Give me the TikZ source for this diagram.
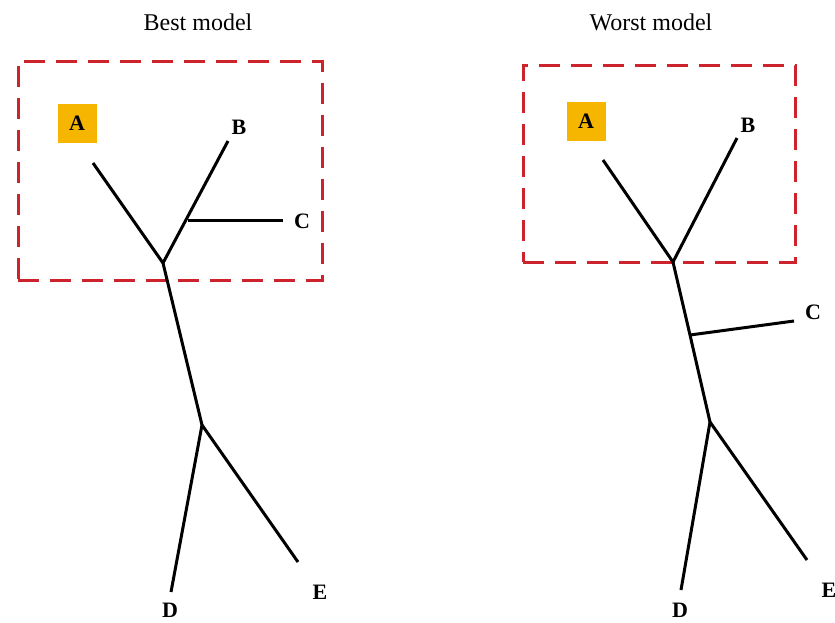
\documentclass[tikz,border=0pt]{standalone}
\usepackage{fontspec}
\setmainfont{Liberation Serif}
\definecolor{boxred}{RGB}{205,35,45}
\definecolor{aorange}{RGB}{246,182,0}
\begin{document}
\begin{tikzpicture}[x=1pt,y=-1pt,
  branch/.style={line width=3pt, black},
  region/.style={draw=boxred, line width=3pt, dash pattern=on 21pt off 11pt, minimum width=#1, inner sep=0pt},
  leaf/.style={font=\fontsize{22}{24}\selectfont\bfseries, inner sep=0pt},
  hilite/.style={fill=aorange, minimum width=39pt, minimum height=39pt, inner sep=0pt, font=\fontsize{22}{24}\selectfont\bfseries},
  title/.style={font=\fontsize{24}{26}\selectfont, inner sep=0pt}]
\useasboundingbox (0,0) rectangle (835,622);
% ---------- Best model ----------
\node[title] (t1) at (198,22) {Best model};
\node[region=304pt, minimum height=219pt] (r1) at (170,170.5) {};
\node[hilite] (A1) at (77,123) {A};
\node[leaf] (B1) at (239,127) {B};
\node[leaf] (C1) at (302,221) {C};
\node[leaf] (D1) at (170,610) {D};
\node[leaf] (E1) at (320,592) {E};
\coordinate (a1) at (93,163);
\coordinate (b1) at (228,141);
\coordinate (c1) at (283,220);
\coordinate (d1) at (171,592);
\coordinate (e1) at (298,562);
\coordinate (j1) at (163,263);
\coordinate (k1) at (188,220);
\coordinate (m1) at (202,425);
\draw[branch] (a1) -- (j1) -- (b1);
\draw[branch] (k1) -- (c1);
\draw[branch] (j1) -- (m1);
\draw[branch] (d1) -- (m1) -- (e1);
% ---------- Worst model ----------
\node[title] (t2) at (651,22) {Worst model};
\node[region=272pt, minimum height=197pt] (r2) at (659,163.5) {};
\node[hilite] (A2) at (586,121) {A};
\node[leaf] (B2) at (748,125) {B};
\node[leaf] (C2) at (813,312) {C};
\node[leaf] (D2) at (680,610) {D};
\node[leaf] (E2) at (829,590) {E};
\coordinate (a2) at (603,160);
\coordinate (b2) at (737,138);
\coordinate (c2) at (794,321);
\coordinate (d2) at (681,590);
\coordinate (e2) at (807,560);
\coordinate (j2) at (673,262);
\coordinate (k2) at (690,335);
\coordinate (m2) at (710,422);
\draw[branch] (a2) -- (j2) -- (b2);
\draw[branch] (j2) -- (k2) -- (m2);
\draw[branch] (k2) -- (c2);
\draw[branch] (d2) -- (m2) -- (e2);
\end{tikzpicture}
\end{document}
